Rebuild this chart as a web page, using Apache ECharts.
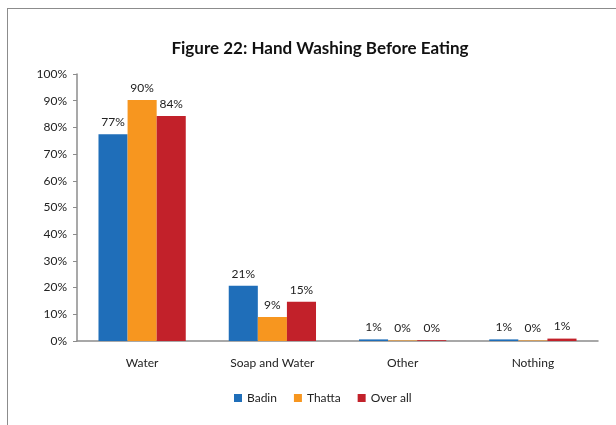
<!DOCTYPE html>
<html>
<head>
<meta charset="utf-8">
<script src="https://cdn.jsdelivr.net/npm/echarts@6/dist/echarts.min.js"></script>
<style>
html,body{margin:0;padding:0;background:#fff;overflow:hidden;}
#frame{position:absolute;left:7px;top:8px;width:700px;height:500px;border:1px solid #8c8c8c;}
#chart{position:absolute;left:0;top:0;width:616px;height:425px;}
</style>
</head>
<body>
<div id="frame"></div>
<div id="chart"></div>
<script>
// hand washing before eating, values in percent
var categories = ["Water", "Soap and Water", "Other", "Nothing"];
var badin = [77.4, 20.7, 0.6, 0.6];
var thatta = [90.3, 9.0, 0.2, 0.2];
var overAll = [84.3, 14.7, 0.3, 0.9];
var yTicks = [0, 10, 20, 30, 40, 50, 60, 70, 80, 90, 100];

var fontName = "Lato";
var chart = echarts.init(document.getElementById('chart'));

function makeSeries(name, data, color){
	return {
		name: name,
		type: 'bar',
		data: data,
		barGap: '0%',
		barCategoryGap: '33%',
		itemStyle: { color: color },
		label: {
			show: true,
			position: 'top',
			distance: 6,
			color: '#222',
			fontFamily: fontName,
			fontSize: 12,
			formatter: function(p){ return Math.round(p.value) + '%'; }
		}
	};
}

var options = {
	animation: false,
	title: {
		text: 'Figure 22: Hand Washing Before Eating',
		left: 315,
		textAlign: 'center',
		top: 35,
		textStyle: { fontFamily: fontName, fontWeight: 'bold', fontSize: 17, color: '#111' }
	},
	legend: {
		data: ['Badin', 'Thatta', 'Over all'],
		left: 229,
		top: 387,
		itemWidth: 8,
		itemHeight: 8,
		itemGap: 17,
		icon: 'rect',
		textStyle: { fontFamily: fontName, fontSize: 12, color: '#222' }
	},
	grid: { left: 77, right: 18, top: 74, bottom: 84 },
	xAxis: {
		type: 'category',
		data: categories,
		axisLine: { lineStyle: { color: '#8c8c8c', width: 1.5 } },
		axisTick: { show: false },
		axisLabel: { margin: 16, fontFamily: fontName, fontSize: 12, color: '#222' }
	},
	yAxis: {
		type: 'value',
		min: yTicks[0],
		max: yTicks[yTicks.length - 1],
		interval: 10,
		axisLine: { show: true, lineStyle: { color: '#8c8c8c', width: 1.5 } },
		axisTick: { show: true, length: 4, lineStyle: { color: '#8c8c8c' } },
		splitLine: { show: false },
		axisLabel: { margin: 10, fontFamily: fontName, fontSize: 12, color: '#222', formatter: '{value}%' }
	},
	series: [
		makeSeries('Badin', badin, '#1f6eb9'),
		makeSeries('Thatta', thatta, '#f7961f'),
		makeSeries('Over all', overAll, '#c2212a')
	]
};
chart.setOption(options);
</script>
</body>
</html>
